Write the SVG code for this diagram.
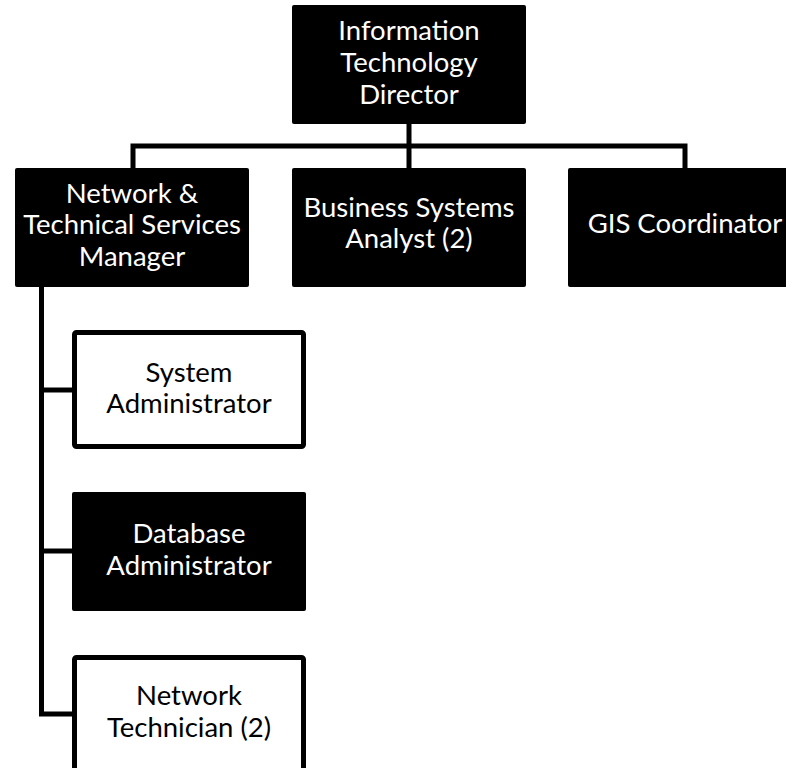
<svg xmlns="http://www.w3.org/2000/svg" width="786" height="768" viewBox="0 0 786 768">
  <style>
    .dark { fill: #000000; }
    .light { fill: #ffffff; stroke: #000000; stroke-width: 5; }
    .lbl { font-family: Lato, "Liberation Sans", sans-serif; font-size: 27.5px; text-anchor: middle; }
    .on-dark { fill: #ffffff; }
    .on-light { fill: #000000; }
    .wire { fill: none; stroke: #000000; stroke-width: 5; stroke-linejoin: miter; }
  </style>
  <rect width="786" height="768" fill="#ffffff"/>

  <g id="connectors">
    <path class="wire" d="M409,124 V168"/>
    <path class="wire" d="M133,168 V146 H685 V168"/>
    <path class="wire" d="M41.5,287 V714 H72"/>
    <path class="wire" d="M41.5,390 H72"/>
    <path class="wire" d="M41.5,551 H72"/>
  </g>

  <g id="it-director">
    <rect class="dark" x="292" y="5" width="234" height="119" rx="2"/>
    <text class="lbl on-dark" x="409" y="40">Information</text>
    <text class="lbl on-dark" x="409" y="72">Technology</text>
    <text class="lbl on-dark" x="409" y="104">Director</text>
  </g>

  <g id="network-manager">
    <rect class="dark" x="15" y="168" width="234" height="119" rx="2"/>
    <text class="lbl on-dark" x="132" y="203">Network &amp;</text>
    <text class="lbl on-dark" x="132" y="234">Technical Services</text>
    <text class="lbl on-dark" x="132" y="266">Manager</text>
  </g>

  <g id="business-analyst">
    <rect class="dark" x="292" y="168" width="234" height="119" rx="2"/>
    <text class="lbl on-dark" x="409" y="217">Business Systems</text>
    <text class="lbl on-dark" x="409" y="248">Analyst (2)</text>
  </g>

  <g id="gis-coordinator">
    <rect class="dark" x="568" y="168" width="234" height="119" rx="2"/>
    <text class="lbl on-dark" x="685" y="233">GIS Coordinator</text>
  </g>

  <g id="system-admin">
    <rect class="light" x="74.5" y="332.5" width="229" height="114" rx="2"/>
    <text class="lbl on-light" x="189" y="382">System</text>
    <text class="lbl on-light" x="189" y="413">Administrator</text>
  </g>

  <g id="database-admin">
    <rect class="dark" x="72" y="492" width="234" height="119" rx="2"/>
    <text class="lbl on-dark" x="189" y="543">Database</text>
    <text class="lbl on-dark" x="189" y="575">Administrator</text>
  </g>

  <g id="network-tech">
    <rect class="light" x="74.5" y="657.5" width="229" height="114" rx="2"/>
    <text class="lbl on-light" x="189" y="705">Network</text>
    <text class="lbl on-light" x="189" y="737">Technician (2)</text>
  </g>
</svg>
